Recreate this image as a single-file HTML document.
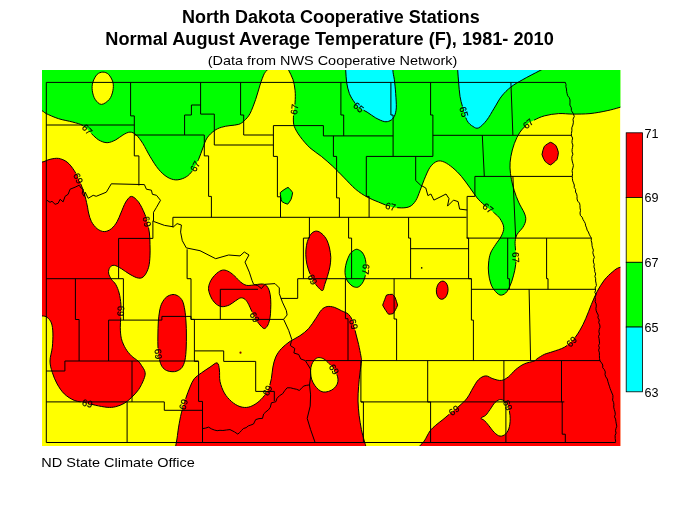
<!DOCTYPE html>
<html lang="en"><head><meta charset="utf-8"><title>North Dakota Cooperative Stations</title>
<style>html,body{margin:0;padding:0;background:#fff}svg{display:block}</style></head>
<body>
<svg width="700" height="518" viewBox="0 0 700 518">
<defs><clipPath id="m"><rect x="42" y="70" width="578.4" height="376"/></clipPath></defs>
<rect width="700" height="518" fill="#fff"/>
<g clip-path="url(#m)">
<rect x="42" y="70" width="578.4" height="376" fill="#ffff00"/>
<path fill="#00ff00" d="M20.0 105.0C22.3 105.6 30.3 107.5 34.0 108.5C37.7 109.5 40.0 109.9 42.0 110.7C44.0 111.6 43.5 112.2 46.3 113.6C49.0 114.9 54.1 117.3 58.6 118.7C63.0 120.1 68.8 121.0 72.9 122.1C76.9 123.3 79.8 123.7 82.9 125.6C86.0 127.5 88.8 131.2 91.4 133.6C94.0 136.0 96.0 138.3 98.6 139.9C101.2 141.4 104.3 142.7 107.1 142.7C110.0 142.7 113.1 141.1 115.7 139.9C118.3 138.6 120.5 136.3 122.9 135.0C125.2 133.7 127.8 132.1 130.0 132.1C132.2 132.1 134.1 133.1 136.3 135.0C138.4 136.9 140.6 140.0 142.9 143.6C145.1 147.1 147.4 152.1 150.0 156.4C152.6 160.7 155.7 165.9 158.6 169.3C161.4 172.7 164.3 175.2 167.1 177.0C170.0 178.8 172.9 179.7 175.7 179.9C178.6 180.0 181.7 179.1 184.3 177.9C186.9 176.6 189.0 175.2 191.4 172.1C193.8 169.0 196.7 163.3 198.6 159.3C200.5 155.2 201.4 151.4 202.9 147.9C204.3 144.3 205.2 140.7 207.1 137.9C209.0 135.0 211.9 132.5 214.3 130.7C216.7 129.0 218.8 128.1 221.4 127.3C224.0 126.4 227.1 126.0 230.0 125.6C232.9 125.1 236.2 125.2 238.6 124.4C241.0 123.6 242.4 122.5 244.3 120.7C246.2 118.9 248.1 117.1 250.0 113.6C251.9 110.0 254.0 104.0 255.7 99.3C257.4 94.5 258.6 89.3 260.0 85.0C261.4 80.7 263.1 76.0 264.3 73.6C265.5 71.1 266.0 72.0 267.1 70.1C268.3 68.2 269.6 64.2 271.4 62.1C273.2 60.1 275.8 57.9 278.0 57.9C280.2 57.9 283.1 60.1 284.9 62.1C286.6 64.2 287.2 67.3 288.6 70.1C289.9 73.0 291.8 75.9 292.9 79.3C294.0 82.7 294.8 86.9 295.1 90.7C295.5 94.5 295.3 99.0 295.1 102.1C295.0 105.2 294.6 106.7 294.3 109.3C294.0 111.9 293.4 115.0 293.4 117.9C293.4 120.7 293.2 123.3 294.3 126.4C295.4 129.5 297.4 132.9 300.0 136.4C302.6 140.0 306.4 144.5 310.0 147.9C313.6 151.2 317.6 153.3 321.4 156.4C325.2 159.5 329.0 162.9 332.9 166.4C336.7 170.0 340.5 174.0 344.3 177.9C348.1 181.7 351.9 186.1 355.7 189.3C359.5 192.5 363.3 194.9 367.1 197.0C371.0 199.1 374.8 200.6 378.6 202.1C382.4 203.7 386.2 205.5 390.0 206.4C393.8 207.4 398.1 207.9 401.4 207.9C404.8 207.9 407.6 207.6 410.0 206.4C412.4 205.2 414.0 203.3 415.7 200.7C417.4 198.1 418.6 194.3 420.0 190.7C421.4 187.1 422.6 183.2 424.3 179.3C426.0 175.4 427.9 170.3 430.0 167.3C432.1 164.3 434.8 162.1 437.1 161.3C439.5 160.4 441.7 161.0 444.3 162.1C446.9 163.2 450.0 165.5 452.9 167.9C455.7 170.2 458.6 173.1 461.4 176.4C464.3 179.8 467.4 184.3 470.0 187.9C472.6 191.4 474.8 195.0 477.1 197.9C479.5 200.7 481.4 202.5 484.3 205.0C487.1 207.5 491.7 210.7 494.3 213.0C496.9 215.3 498.4 216.3 500.0 218.7C501.6 221.1 503.5 224.4 503.7 227.3C504.0 230.1 502.8 233.0 501.4 235.9C500.1 238.7 497.5 241.6 495.7 244.4C493.9 247.3 491.8 249.9 490.6 253.0C489.4 256.1 488.9 259.7 488.6 263.0C488.2 266.3 488.2 269.7 488.6 273.0C488.9 276.3 489.6 280.1 490.6 283.0C491.5 285.9 492.7 288.1 494.3 290.1C495.9 292.1 498.1 294.5 500.0 295.0C501.9 295.5 504.0 294.5 505.7 293.0C507.4 291.5 508.7 288.7 510.0 285.9C511.3 283.0 512.5 279.4 513.4 275.9C514.4 272.3 515.3 268.2 515.7 264.4C516.1 260.6 515.8 256.8 515.7 253.0C515.6 249.2 514.9 244.7 515.1 241.6C515.4 238.5 515.9 236.8 517.1 234.4C518.4 232.0 521.4 229.7 522.9 227.3C524.3 224.9 525.5 222.5 525.7 220.1C526.0 217.8 525.5 216.0 524.3 213.0C523.1 210.0 520.2 205.9 518.6 202.1C516.9 198.4 515.5 194.5 514.3 190.7C513.1 186.9 512.1 183.1 511.4 179.3C510.7 175.5 510.1 171.7 510.0 167.9C509.9 164.0 510.1 160.5 510.9 156.4C511.6 152.4 512.8 147.6 514.3 143.6C515.8 139.5 517.7 135.5 520.0 132.1C522.3 128.8 525.9 125.5 528.0 123.6C530.1 121.7 530.1 122.0 532.9 120.7C535.6 119.4 540.0 117.0 544.3 115.9C548.6 114.7 553.8 113.9 558.6 113.6C563.3 113.3 567.6 114.1 572.9 114.1C578.1 114.1 584.3 114.1 590.0 113.6C595.7 113.0 602.1 111.8 607.1 110.7C612.1 109.7 615.4 108.6 620.0 107.3C624.6 106.0 630.0 104.2 635.0 103.0C640.0 101.8 647.5 100.5 650.0 100.0L650 40L20 40Z"/>
<path fill="#ffff00" d="M102.9 72.1C104.8 72.1 106.9 72.8 108.6 74.4C110.2 76.1 112.1 79.4 112.9 82.1C113.6 84.9 113.4 87.9 112.9 90.7C112.3 93.6 111.3 97.0 109.4 99.3C107.5 101.6 103.8 104.4 101.4 104.4C99.0 104.4 96.7 101.6 95.1 99.3C93.6 97.0 92.7 93.6 92.3 90.7C91.9 87.9 92.0 84.9 92.9 82.1C93.7 79.4 95.5 76.1 97.1 74.4C98.8 72.8 101.0 72.1 102.9 72.1Z"/>
<path fill="#00ff00" d="M288.0 187.4C289.7 188.5 291.4 190.8 292.6 192.6C292.5 194.7 291.7 197.1 291.1 199.2C290.1 201.0 288.9 203.0 287.6 204.2C285.8 203.7 283.5 202.8 281.8 201.5C281.0 198.9 280.3 195.4 280.3 192.6C282.3 190.7 285.6 188.5 288.0 187.4Z"/>
<path fill="#00ffff" d="M344.3 56.4C336.3 58.7 345.3 65.9 345.7 70.1C346.1 74.4 346.0 78.2 346.6 82.1C347.2 86.0 348.1 90.2 349.4 93.6C350.7 96.9 352.8 99.9 354.3 102.1C355.8 104.4 356.4 105.6 358.6 107.3C360.7 109.0 364.3 110.4 367.1 112.1C370.0 113.9 372.9 116.3 375.7 117.9C378.6 119.4 381.9 121.1 384.3 121.6C386.7 122.0 388.3 121.6 390.0 120.7C391.7 119.9 393.2 118.6 394.3 116.4C395.3 114.3 396.0 111.7 396.3 107.9C396.5 104.0 396.0 98.3 395.7 93.6C395.4 88.8 394.8 83.2 394.3 79.3C393.8 75.4 393.0 74.0 392.9 70.1C392.7 66.3 401.5 58.7 393.4 56.4C385.3 54.1 352.2 54.1 344.3 56.4Z"/>
<path fill="#00ffff" d="M457.1 56.4C440.8 59.8 457.5 65.9 457.7 70.1C458.0 74.4 458.2 77.8 458.6 82.1C459.0 86.5 459.3 92.1 460.0 96.4C460.7 100.7 461.7 103.8 462.9 107.9C464.0 111.9 465.5 117.6 467.1 120.7C468.8 123.8 471.0 125.2 472.9 126.4C474.8 127.6 476.3 128.9 478.6 127.9C480.9 126.8 484.1 123.5 486.7 120.2C489.3 116.9 491.7 112.2 494.2 108.2C496.7 104.2 498.9 99.6 501.7 96.1C504.5 92.6 507.3 89.8 510.8 87.1C514.3 84.3 517.9 82.4 522.8 79.6C527.7 76.8 534.5 73.4 540.0 70.5C545.5 67.6 553.3 65.4 556.0 62.0C558.7 58.6 572.5 50.9 556.0 50.0C539.5 49.1 473.5 53.1 457.1 56.4Z"/>
<path fill="#ff0000" d="M20.0 160.0C22.3 134.5 30.3 161.6 34.0 162.0C37.7 162.4 39.3 162.6 42.0 162.1C44.7 161.7 47.2 159.9 50.0 159.3C52.8 158.7 55.7 158.0 58.6 158.4C61.4 158.9 64.5 160.1 67.1 162.1C69.8 164.2 72.1 167.4 74.3 170.7C76.4 174.0 78.3 178.3 80.0 182.1C81.7 186.0 83.1 189.8 84.3 193.6C85.5 197.4 86.4 201.8 87.1 205.0C87.9 208.2 87.9 210.2 88.6 213.0C89.3 215.8 90.0 219.0 91.4 221.6C92.9 224.2 95.0 227.0 97.1 228.7C99.3 230.4 101.9 231.6 104.3 231.6C106.7 231.6 109.3 230.4 111.4 228.7C113.6 227.0 115.6 224.2 117.1 221.6C118.7 219.0 119.4 216.2 120.9 213.0C122.3 209.8 124.0 204.9 125.7 202.1C127.5 199.4 129.3 196.4 131.4 196.4C133.6 196.4 136.4 199.4 138.6 202.1C140.7 204.9 142.9 209.8 144.3 213.0C145.7 216.2 146.3 218.2 147.1 221.6C148.0 224.9 149.0 229.2 149.4 233.0C149.9 236.8 149.9 240.6 150.0 244.4C150.1 248.2 150.2 252.0 150.0 255.9C149.8 259.7 149.5 264.0 148.6 267.3C147.6 270.6 146.0 274.0 144.3 275.9C142.6 277.7 141.0 278.4 138.6 278.1C136.2 277.9 132.9 276.0 130.0 274.4C127.1 272.9 124.0 270.2 121.4 268.7C118.8 267.2 116.2 265.5 114.3 265.3C112.4 265.0 111.0 266.0 110.0 267.3C109.0 268.6 108.3 271.0 108.6 273.0C108.8 275.0 110.2 277.4 111.4 279.3C112.6 281.2 114.4 282.1 115.7 284.4C117.0 286.7 118.3 289.7 119.1 293.0C120.0 296.3 120.6 300.6 120.9 304.4C121.1 308.2 121.0 312.0 120.9 315.9C120.8 319.7 120.2 323.5 120.3 327.3C120.4 331.1 120.5 335.1 121.4 338.7C122.3 342.3 124.0 345.9 125.7 348.7C127.4 351.6 129.4 353.8 131.4 355.9C133.5 357.9 136.3 359.4 138.0 361.0C139.7 362.6 140.2 363.4 141.4 365.3C142.6 367.2 144.8 370.0 145.1 372.4C145.5 374.8 144.8 376.7 143.7 379.6C142.6 382.4 140.6 386.6 138.6 389.6C136.5 392.6 133.8 395.3 131.4 397.6C129.0 399.9 126.9 401.8 124.3 403.3C121.7 404.8 118.6 406.0 115.7 406.7C112.9 407.4 110.5 407.5 107.1 407.3C103.8 407.0 99.5 406.1 95.7 405.3C91.9 404.5 87.9 403.2 84.3 402.4C80.7 401.6 77.6 401.9 74.3 400.4C71.0 399.0 67.1 396.6 64.3 393.9C61.4 391.1 59.1 387.4 57.1 383.9C55.1 380.3 53.5 376.2 52.3 372.4C51.1 368.6 50.0 365.2 50.0 361.0C50.0 356.8 51.8 352.0 52.3 347.3C52.8 342.6 53.0 337.0 52.9 333.0C52.7 329.0 52.4 325.6 51.4 323.0C50.5 320.4 48.7 318.5 47.1 317.3C45.6 316.1 44.2 316.2 42.0 315.9C39.8 315.5 37.7 315.1 34.0 315.0C30.3 314.9 22.3 340.8 20.0 315.0C17.7 289.2 17.7 185.5 20.0 160.0Z"/>
<path fill="#ff0000" d="M173.0 294.5C175.0 294.4 176.9 295.2 178.5 296.3C180.1 297.4 181.4 298.7 182.5 301.0C183.6 303.3 184.2 306.5 184.8 310.0C185.4 313.5 185.7 317.8 186.0 322.0C186.3 326.2 186.4 330.7 186.4 335.0C186.4 339.3 186.4 343.8 186.2 348.0C186.0 352.2 185.7 356.8 185.0 360.0C184.3 363.2 183.3 365.7 182.0 367.5C180.7 369.3 178.7 370.3 177.0 371.0C175.3 371.7 173.8 371.8 172.0 371.7C170.2 371.6 168.2 371.4 166.5 370.5C164.8 369.6 163.2 368.4 162.0 366.5C160.8 364.6 160.0 362.1 159.3 359.0C158.6 355.9 158.2 352.0 158.0 348.0C157.8 344.0 157.8 339.3 157.9 335.0C158.0 330.7 158.0 326.0 158.3 322.0C158.6 318.0 159.0 314.2 159.6 311.0C160.2 307.8 160.8 305.3 162.0 303.0C163.2 300.7 164.7 298.4 166.5 297.0C168.3 295.6 171.0 294.6 173.0 294.5Z"/>
<path fill="#ff0000" d="M223.6 270.0C225.4 270.0 227.4 270.8 229.3 271.9C231.2 272.9 233.1 274.7 235.0 276.4C236.9 278.1 238.8 280.7 240.7 282.1C242.6 283.6 244.3 284.8 246.4 285.3C248.6 285.8 251.2 285.2 253.6 285.0C256.0 284.8 258.7 284.0 260.7 284.0C262.7 284.0 264.3 283.9 265.7 285.0C267.1 286.1 268.5 288.3 269.3 290.7C270.1 293.1 270.5 296.2 270.7 299.3C271.0 302.4 270.8 306.2 270.7 309.3C270.6 312.4 270.5 315.2 270.0 317.9C269.5 320.5 268.8 323.2 267.9 325.0C266.9 326.8 265.6 328.6 264.3 328.6C263.0 328.6 261.3 326.4 260.0 325.0C258.7 323.6 257.7 322.1 256.4 320.0C255.1 317.9 253.5 314.8 252.1 312.1C250.8 309.5 249.8 306.4 248.6 304.3C247.4 302.1 246.3 300.4 245.0 299.3C243.7 298.2 242.3 297.6 240.7 297.9C239.2 298.1 237.6 299.5 235.7 300.7C233.8 301.9 231.5 304.0 229.3 305.0C227.0 306.0 224.3 306.8 222.1 306.7C220.0 306.6 218.1 305.5 216.4 304.3C214.8 303.0 213.3 301.2 212.1 299.3C211.0 297.4 209.9 294.9 209.3 292.9C208.7 290.8 208.3 289.2 208.6 287.1C208.8 285.1 209.8 282.6 210.7 280.7C211.7 278.8 213.0 277.2 214.3 275.7C215.6 274.2 217.0 272.8 218.6 271.9C220.1 270.9 221.8 270.0 223.6 270.0Z"/>
<path fill="#ff0000" d="M316.6 231.1C318.3 231.2 320.3 232.3 322.0 233.8C323.7 235.2 325.5 237.5 326.8 239.9C328.0 242.2 328.8 245.0 329.5 248.0C330.1 250.9 330.7 254.3 330.8 257.4C330.9 260.6 330.4 263.7 329.9 266.9C329.3 270.0 328.3 273.4 327.4 276.4C326.6 279.3 325.5 282.1 324.7 284.5C323.9 286.8 323.7 290.0 322.7 290.5C321.7 291.1 320.1 289.3 318.6 287.8C317.2 286.4 315.4 284.1 313.9 281.8C312.5 279.4 311.0 276.6 309.9 273.6C308.7 270.7 307.6 267.3 306.9 264.2C306.2 261.0 305.9 257.9 305.8 254.7C305.7 251.6 306.0 248.0 306.5 245.3C306.9 242.6 307.6 240.5 308.5 238.5C309.4 236.5 310.5 234.3 311.9 233.1C313.2 231.9 314.9 231.0 316.6 231.1Z"/>
<path fill="#00ff00" d="M357.2 249.3C358.5 249.6 360.7 250.8 361.9 252.0C363.1 253.3 363.9 255.0 364.6 256.8C365.3 258.6 365.7 260.5 365.9 262.8C366.2 265.2 366.2 268.4 365.9 270.9C365.7 273.5 365.3 276.2 364.6 278.4C363.9 280.5 363.0 282.3 361.9 283.8C360.8 285.2 359.3 286.7 357.8 287.2C356.4 287.6 354.6 287.2 353.1 286.5C351.6 285.8 350.2 284.5 349.1 283.1C347.9 281.8 346.8 280.2 346.1 278.4C345.4 276.6 345.1 274.4 345.0 272.3C344.9 270.2 345.2 267.8 345.7 265.5C346.1 263.3 346.9 260.8 347.7 258.8C348.5 256.8 349.4 254.8 350.4 253.4C351.4 252.0 352.7 251.1 353.8 250.4C354.9 249.7 355.8 249.1 357.2 249.3Z"/>
<path fill="#ff0000" d="M386.6 295.0C388.3 294.5 390.6 294.3 392.4 294.3C393.5 295.1 394.2 296.1 395.1 297.4C395.9 299.7 397.0 302.7 397.6 305.1C397.2 306.8 396.2 308.2 395.5 309.7C394.7 311.0 394.1 312.5 393.2 313.6C391.8 314.0 389.9 314.3 388.5 314.2C387.5 313.2 386.7 311.8 385.8 310.5C384.8 308.8 383.4 307.0 382.7 305.2C383.1 303.4 384.0 301.5 384.7 299.7C385.3 298.1 385.7 296.3 386.6 295.0Z"/>
<path fill="#ff0000" d="M448.0 290.7C447.8 292.2 447.4 293.9 446.8 295.2C446.2 296.4 445.3 297.6 444.4 298.3C443.5 299.0 442.4 299.3 441.4 299.3C440.4 299.2 439.4 298.6 438.6 297.8C437.9 297.0 437.2 295.6 436.8 294.3C436.4 292.9 436.3 291.2 436.4 289.7C436.6 288.2 437.0 286.5 437.6 285.2C438.2 284.0 439.1 282.8 440.0 282.1C440.9 281.4 442.0 281.1 443.0 281.1C444.0 281.2 445.0 281.8 445.8 282.6C446.5 283.4 447.2 284.8 447.6 286.1C448.0 287.5 448.1 289.2 448.0 290.7Z"/>
<path fill="#ff0000" d="M550.5 142.3C552.4 142.8 554.3 144.2 555.9 145.6C557.0 147.6 557.9 150.2 558.4 152.5C558.2 154.8 557.8 157.3 557.0 159.5C555.2 161.4 552.6 163.8 550.5 164.9C548.6 164.4 546.7 162.8 545.1 161.4C543.9 159.4 542.6 156.9 542.0 154.5C542.4 151.9 543.2 148.8 544.3 146.4C546.1 144.7 548.5 143.1 550.5 142.3Z"/>
<path fill="#ff0000" d="M174.0 475.0C142.0 473.5 174.7 459.8 175.0 455.0C175.3 450.2 175.3 448.8 175.7 446.0C176.1 443.2 176.7 441.1 177.1 438.0C177.6 434.9 177.9 431.3 178.6 427.1C179.3 423.0 180.2 417.6 181.4 412.9C182.6 408.1 184.3 402.9 185.7 398.6C187.1 394.3 188.6 390.5 190.0 387.1C191.4 383.8 192.4 381.0 194.3 378.6C196.2 376.2 198.8 374.8 201.4 372.9C204.0 371.0 207.4 368.8 210.0 367.1C212.6 365.5 215.6 362.4 217.1 362.9C218.7 363.3 219.0 366.9 219.4 370.0C219.9 373.1 219.2 377.6 220.0 381.4C220.8 385.2 222.4 389.5 224.3 392.9C226.2 396.2 228.8 399.1 231.4 401.4C234.0 403.7 237.1 405.6 240.0 406.6C242.9 407.5 245.7 407.8 248.6 407.1C251.4 406.5 254.5 404.8 257.1 402.9C259.8 401.0 262.4 398.1 264.3 395.7C266.2 393.3 267.4 391.4 268.6 388.6C269.8 385.7 270.7 382.1 271.4 378.6C272.1 375.0 272.1 370.7 272.9 367.1C273.6 363.6 274.3 360.2 275.7 357.1C277.1 354.0 279.0 351.2 281.4 348.6C283.8 346.0 286.9 343.6 290.0 341.4C293.1 339.3 296.9 337.9 300.0 335.7C303.1 333.6 306.0 331.4 308.6 328.6C311.2 325.7 313.6 321.7 315.7 318.6C317.9 315.5 319.5 312.0 321.4 310.0C323.3 308.0 325.0 307.0 327.1 306.6C329.3 306.1 331.9 306.6 334.3 307.3C336.7 308.0 339.0 309.5 341.4 310.7C343.8 311.9 346.7 312.6 348.6 314.4C350.5 316.2 351.7 318.5 352.9 321.6C354.0 324.7 354.8 329.2 355.7 333.0C356.7 336.8 357.7 340.6 358.6 344.4C359.4 348.2 360.4 353.1 360.9 355.9C361.3 358.6 361.6 358.2 361.4 361.0C361.3 363.8 360.5 368.1 360.0 372.4C359.5 376.7 358.9 382.0 358.6 386.7C358.2 391.5 357.9 396.2 358.0 401.0C358.1 405.8 358.6 410.5 359.1 415.3C359.7 420.0 360.6 425.3 361.4 429.6C362.3 433.9 363.6 438.3 364.3 441.0C365.0 443.7 365.3 444.0 365.7 445.9C366.1 447.8 366.3 449.4 366.6 452.4C366.8 455.4 399.2 460.1 367.1 463.9C335.0 467.6 206.0 476.5 174.0 475.0Z"/>
<path fill="#ffff00" d="M319.1 357.6C320.5 357.6 322.4 358.1 324.1 359.1C325.8 360.1 327.5 362.0 329.1 363.6C330.7 365.2 332.4 366.8 333.7 368.6C334.9 370.4 335.9 372.4 336.7 374.1C337.4 375.9 337.9 377.5 338.0 379.1C338.1 380.8 337.9 382.6 337.2 384.2C336.4 385.7 335.1 387.5 333.7 388.7C332.2 389.9 330.4 390.8 328.6 391.4C326.9 391.9 324.8 392.3 323.1 392.0C321.4 391.7 320.0 390.8 318.6 389.7C317.2 388.5 315.7 386.9 314.6 385.2C313.4 383.4 312.2 381.1 311.6 379.1C310.9 377.1 310.7 375.0 310.6 373.1C310.4 371.2 310.5 369.3 310.9 367.6C311.2 365.8 311.8 364.0 312.6 362.6C313.4 361.1 314.5 359.7 315.6 358.9C316.7 358.0 317.7 357.5 319.1 357.6Z"/>
<path fill="#ff0000" d="M650.0 262.0C647.5 227.7 640.0 263.1 635.0 264.0C630.0 264.9 623.7 266.0 620.0 267.3C616.3 268.5 615.5 269.4 612.9 271.6C610.2 273.7 606.9 276.8 604.3 280.1C601.7 283.5 599.3 287.5 597.1 291.6C595.0 295.6 593.3 299.9 591.4 304.4C589.5 309.0 587.6 314.4 585.7 318.7C583.8 323.0 582.1 326.6 580.0 330.1C577.9 333.7 575.5 337.3 572.9 340.1C570.2 343.0 567.6 345.4 564.3 347.3C561.0 349.2 556.2 350.4 552.9 351.6C549.5 352.8 546.9 353.2 544.3 354.4C541.7 355.6 538.8 357.6 537.1 358.7C535.5 359.8 536.4 360.1 534.3 361.0C532.1 361.9 527.4 362.4 524.3 363.9C521.2 365.3 518.3 367.4 515.7 369.6C513.1 371.7 511.0 374.9 508.6 376.7C506.2 378.5 504.0 380.1 501.4 380.4C498.8 380.8 495.5 379.5 492.9 378.7C490.2 378.0 488.1 375.7 485.7 375.9C483.3 376.0 480.7 377.5 478.6 379.6C476.4 381.6 474.8 385.0 472.9 388.1C471.0 391.2 469.3 395.3 467.1 398.1C465.0 401.0 462.6 402.9 460.0 405.3C457.4 407.7 454.3 410.0 451.4 412.4C448.6 414.8 445.5 417.4 442.9 419.6C440.2 421.7 437.9 423.4 435.7 425.3C433.6 427.2 431.9 428.4 430.0 431.0C428.1 433.6 426.0 438.5 424.3 441.0C422.6 443.5 421.4 443.5 420.0 445.9C418.6 448.2 377.4 451.3 415.7 455.3C454.0 459.3 611.0 502.2 650.0 470.0C689.0 437.8 652.5 296.3 650.0 262.0Z"/>
<path fill="#ffff00" d="M500.9 399.6C502.9 399.8 505.6 401.2 507.1 403.9C508.7 406.5 509.6 411.5 510.0 415.3C510.4 419.1 510.1 423.6 509.4 426.7C508.7 429.8 507.3 432.3 505.7 433.9C504.1 435.4 501.9 436.4 500.0 436.1C498.1 435.9 496.2 434.2 494.3 432.4C492.4 430.6 490.2 427.3 488.6 425.3C486.9 423.3 485.6 421.6 484.3 420.4C483.0 419.2 480.6 419.0 480.9 418.1C481.1 417.3 484.2 416.7 485.7 415.3C487.2 413.9 488.4 411.7 490.0 409.6C491.6 407.4 493.3 404.1 495.1 402.4C497.0 400.8 498.9 399.3 500.9 399.6Z"/>
<g fill="none" stroke="#000" stroke-width="1" stroke-linejoin="round">
<path d="M20.0 105.0C22.3 105.6 30.3 107.5 34.0 108.5C37.7 109.5 40.0 109.9 42.0 110.7C44.0 111.6 43.5 112.2 46.3 113.6C49.0 114.9 54.1 117.3 58.6 118.7C63.0 120.1 68.8 121.0 72.9 122.1C76.9 123.3 79.8 123.7 82.9 125.6C86.0 127.5 88.8 131.2 91.4 133.6C94.0 136.0 96.0 138.3 98.6 139.9C101.2 141.4 104.3 142.7 107.1 142.7C110.0 142.7 113.1 141.1 115.7 139.9C118.3 138.6 120.5 136.3 122.9 135.0C125.2 133.7 127.8 132.1 130.0 132.1C132.2 132.1 134.1 133.1 136.3 135.0C138.4 136.9 140.6 140.0 142.9 143.6C145.1 147.1 147.4 152.1 150.0 156.4C152.6 160.7 155.7 165.9 158.6 169.3C161.4 172.7 164.3 175.2 167.1 177.0C170.0 178.8 172.9 179.7 175.7 179.9C178.6 180.0 181.7 179.1 184.3 177.9C186.9 176.6 189.0 175.2 191.4 172.1C193.8 169.0 196.7 163.3 198.6 159.3C200.5 155.2 201.4 151.4 202.9 147.9C204.3 144.3 205.2 140.7 207.1 137.9C209.0 135.0 211.9 132.5 214.3 130.7C216.7 129.0 218.8 128.1 221.4 127.3C224.0 126.4 227.1 126.0 230.0 125.6C232.9 125.1 236.2 125.2 238.6 124.4C241.0 123.6 242.4 122.5 244.3 120.7C246.2 118.9 248.1 117.1 250.0 113.6C251.9 110.0 254.0 104.0 255.7 99.3C257.4 94.5 258.6 89.3 260.0 85.0C261.4 80.7 263.1 76.0 264.3 73.6C265.5 71.1 266.0 72.0 267.1 70.1C268.3 68.2 269.6 64.2 271.4 62.1C273.2 60.1 275.8 57.9 278.0 57.9C280.2 57.9 283.1 60.1 284.9 62.1C286.6 64.2 287.2 67.3 288.6 70.1C289.9 73.0 291.8 75.9 292.9 79.3C294.0 82.7 294.8 86.9 295.1 90.7C295.5 94.5 295.3 99.0 295.1 102.1C295.0 105.2 294.6 106.7 294.3 109.3C294.0 111.9 293.4 115.0 293.4 117.9C293.4 120.7 293.2 123.3 294.3 126.4C295.4 129.5 297.4 132.9 300.0 136.4C302.6 140.0 306.4 144.5 310.0 147.9C313.6 151.2 317.6 153.3 321.4 156.4C325.2 159.5 329.0 162.9 332.9 166.4C336.7 170.0 340.5 174.0 344.3 177.9C348.1 181.7 351.9 186.1 355.7 189.3C359.5 192.5 363.3 194.9 367.1 197.0C371.0 199.1 374.8 200.6 378.6 202.1C382.4 203.7 386.2 205.5 390.0 206.4C393.8 207.4 398.1 207.9 401.4 207.9C404.8 207.9 407.6 207.6 410.0 206.4C412.4 205.2 414.0 203.3 415.7 200.7C417.4 198.1 418.6 194.3 420.0 190.7C421.4 187.1 422.6 183.2 424.3 179.3C426.0 175.4 427.9 170.3 430.0 167.3C432.1 164.3 434.8 162.1 437.1 161.3C439.5 160.4 441.7 161.0 444.3 162.1C446.9 163.2 450.0 165.5 452.9 167.9C455.7 170.2 458.6 173.1 461.4 176.4C464.3 179.8 467.4 184.3 470.0 187.9C472.6 191.4 474.8 195.0 477.1 197.9C479.5 200.7 481.4 202.5 484.3 205.0C487.1 207.5 491.7 210.7 494.3 213.0C496.9 215.3 498.4 216.3 500.0 218.7C501.6 221.1 503.5 224.4 503.7 227.3C504.0 230.1 502.8 233.0 501.4 235.9C500.1 238.7 497.5 241.6 495.7 244.4C493.9 247.3 491.8 249.9 490.6 253.0C489.4 256.1 488.9 259.7 488.6 263.0C488.2 266.3 488.2 269.7 488.6 273.0C488.9 276.3 489.6 280.1 490.6 283.0C491.5 285.9 492.7 288.1 494.3 290.1C495.9 292.1 498.1 294.5 500.0 295.0C501.9 295.5 504.0 294.5 505.7 293.0C507.4 291.5 508.7 288.7 510.0 285.9C511.3 283.0 512.5 279.4 513.4 275.9C514.4 272.3 515.3 268.2 515.7 264.4C516.1 260.6 515.8 256.8 515.7 253.0C515.6 249.2 514.9 244.7 515.1 241.6C515.4 238.5 515.9 236.8 517.1 234.4C518.4 232.0 521.4 229.7 522.9 227.3C524.3 224.9 525.5 222.5 525.7 220.1C526.0 217.8 525.5 216.0 524.3 213.0C523.1 210.0 520.2 205.9 518.6 202.1C516.9 198.4 515.5 194.5 514.3 190.7C513.1 186.9 512.1 183.1 511.4 179.3C510.7 175.5 510.1 171.7 510.0 167.9C509.9 164.0 510.1 160.5 510.9 156.4C511.6 152.4 512.8 147.6 514.3 143.6C515.8 139.5 517.7 135.5 520.0 132.1C522.3 128.8 525.9 125.5 528.0 123.6C530.1 121.7 530.1 122.0 532.9 120.7C535.6 119.4 540.0 117.0 544.3 115.9C548.6 114.7 553.8 113.9 558.6 113.6C563.3 113.3 567.6 114.1 572.9 114.1C578.1 114.1 584.3 114.1 590.0 113.6C595.7 113.0 602.1 111.8 607.1 110.7C612.1 109.7 615.4 108.6 620.0 107.3C624.6 106.0 630.0 104.2 635.0 103.0C640.0 101.8 647.5 100.5 650.0 100.0" stroke-dasharray="66.8 11.4 132.4 11.4 193.0 11.4 133.6 11.4 133.8 11.4 133.7 11.4 133.3 11.4 9999.0"/>
<path d="M102.9 72.1C104.8 72.1 106.9 72.8 108.6 74.4C110.2 76.1 112.1 79.4 112.9 82.1C113.6 84.9 113.4 87.9 112.9 90.7C112.3 93.6 111.3 97.0 109.4 99.3C107.5 101.6 103.8 104.4 101.4 104.4C99.0 104.4 96.7 101.6 95.1 99.3C93.6 97.0 92.7 93.6 92.3 90.7C91.9 87.9 92.0 84.9 92.9 82.1C93.7 79.4 95.5 76.1 97.1 74.4C98.8 72.8 101.0 72.1 102.9 72.1"/>
<path d="M288.0 187.4C289.7 188.5 291.4 190.8 292.6 192.6C292.5 194.7 291.7 197.1 291.1 199.2C290.1 201.0 288.9 203.0 287.6 204.2C285.8 203.7 283.5 202.8 281.8 201.5C281.0 198.9 280.3 195.4 280.3 192.6C282.3 190.7 285.6 188.5 288.0 187.4"/>
<path d="M344.3 56.4C336.3 58.7 345.3 65.9 345.7 70.1C346.1 74.4 346.0 78.2 346.6 82.1C347.2 86.0 348.1 90.2 349.4 93.6C350.7 96.9 352.8 99.9 354.3 102.1C355.8 104.4 356.4 105.6 358.6 107.3C360.7 109.0 364.3 110.4 367.1 112.1C370.0 113.9 372.9 116.3 375.7 117.9C378.6 119.4 381.9 121.1 384.3 121.6C386.7 122.0 388.3 121.6 390.0 120.7C391.7 119.9 393.2 118.6 394.3 116.4C395.3 114.3 396.0 111.7 396.3 107.9C396.5 104.0 396.0 98.3 395.7 93.6C395.4 88.8 394.8 83.2 394.3 79.3C393.8 75.4 393.0 74.0 392.9 70.1C392.7 66.3 401.5 58.7 393.4 56.4C385.3 54.1 352.2 54.1 344.3 56.4" stroke-dasharray="51.4 11.4 9999.0"/>
<path d="M457.1 56.4C440.8 59.8 457.5 65.9 457.7 70.1C458.0 74.4 458.2 77.8 458.6 82.1C459.0 86.5 459.3 92.1 460.0 96.4C460.7 100.7 461.7 103.8 462.9 107.9C464.0 111.9 465.5 117.6 467.1 120.7C468.8 123.8 471.0 125.2 472.9 126.4C474.8 127.6 476.3 128.9 478.6 127.9C480.9 126.8 484.1 123.5 486.7 120.2C489.3 116.9 491.7 112.2 494.2 108.2C496.7 104.2 498.9 99.6 501.7 96.1C504.5 92.6 507.3 89.8 510.8 87.1C514.3 84.3 517.9 82.4 522.8 79.6C527.7 76.8 534.5 73.4 540.0 70.5C545.5 67.6 553.3 65.4 556.0 62.0C558.7 58.6 572.5 50.9 556.0 50.0C539.5 49.1 473.5 53.1 457.1 56.4" stroke-dasharray="58.0 11.4 9999.0"/>
<path d="M20.0 160.0C22.3 134.5 30.3 161.6 34.0 162.0C37.7 162.4 39.3 162.6 42.0 162.1C44.7 161.7 47.2 159.9 50.0 159.3C52.8 158.7 55.7 158.0 58.6 158.4C61.4 158.9 64.5 160.1 67.1 162.1C69.8 164.2 72.1 167.4 74.3 170.7C76.4 174.0 78.3 178.3 80.0 182.1C81.7 186.0 83.1 189.8 84.3 193.6C85.5 197.4 86.4 201.8 87.1 205.0C87.9 208.2 87.9 210.2 88.6 213.0C89.3 215.8 90.0 219.0 91.4 221.6C92.9 224.2 95.0 227.0 97.1 228.7C99.3 230.4 101.9 231.6 104.3 231.6C106.7 231.6 109.3 230.4 111.4 228.7C113.6 227.0 115.6 224.2 117.1 221.6C118.7 219.0 119.4 216.2 120.9 213.0C122.3 209.8 124.0 204.9 125.7 202.1C127.5 199.4 129.3 196.4 131.4 196.4C133.6 196.4 136.4 199.4 138.6 202.1C140.7 204.9 142.9 209.8 144.3 213.0C145.7 216.2 146.3 218.2 147.1 221.6C148.0 224.9 149.0 229.2 149.4 233.0C149.9 236.8 149.9 240.6 150.0 244.4C150.1 248.2 150.2 252.0 150.0 255.9C149.8 259.7 149.5 264.0 148.6 267.3C147.6 270.6 146.0 274.0 144.3 275.9C142.6 277.7 141.0 278.4 138.6 278.1C136.2 277.9 132.9 276.0 130.0 274.4C127.1 272.9 124.0 270.2 121.4 268.7C118.8 267.2 116.2 265.5 114.3 265.3C112.4 265.0 111.0 266.0 110.0 267.3C109.0 268.6 108.3 271.0 108.6 273.0C108.8 275.0 110.2 277.4 111.4 279.3C112.6 281.2 114.4 282.1 115.7 284.4C117.0 286.7 118.3 289.7 119.1 293.0C120.0 296.3 120.6 300.6 120.9 304.4C121.1 308.2 121.0 312.0 120.9 315.9C120.8 319.7 120.2 323.5 120.3 327.3C120.4 331.1 120.5 335.1 121.4 338.7C122.3 342.3 124.0 345.9 125.7 348.7C127.4 351.6 129.4 353.8 131.4 355.9C133.5 357.9 136.3 359.4 138.0 361.0C139.7 362.6 140.2 363.4 141.4 365.3C142.6 367.2 144.8 370.0 145.1 372.4C145.5 374.8 144.8 376.7 143.7 379.6C142.6 382.4 140.6 386.6 138.6 389.6C136.5 392.6 133.8 395.3 131.4 397.6C129.0 399.9 126.9 401.8 124.3 403.3C121.7 404.8 118.6 406.0 115.7 406.7C112.9 407.4 110.5 407.5 107.1 407.3C103.8 407.0 99.5 406.1 95.7 405.3C91.9 404.5 87.9 403.2 84.3 402.4C80.7 401.6 77.6 401.9 74.3 400.4C71.0 399.0 67.1 396.6 64.3 393.9C61.4 391.1 59.1 387.4 57.1 383.9C55.1 380.3 53.5 376.2 52.3 372.4C51.1 368.6 50.0 365.2 50.0 361.0C50.0 356.8 51.8 352.0 52.3 347.3C52.8 342.6 53.0 337.0 52.9 333.0C52.7 329.0 52.4 325.6 51.4 323.0C50.5 320.4 48.7 318.5 47.1 317.3C45.6 316.1 44.2 316.2 42.0 315.9C39.8 315.5 37.7 315.1 34.0 315.0C30.3 314.9 22.3 340.8 20.0 315.0C17.7 289.2 17.7 185.5 20.0 160.0" stroke-dasharray="77.7 11.4 128.5 11.4 130.5 11.4 135.2 11.4 9999.0"/>
<path d="M173.0 294.5C175.0 294.4 176.9 295.2 178.5 296.3C180.1 297.4 181.4 298.7 182.5 301.0C183.6 303.3 184.2 306.5 184.8 310.0C185.4 313.5 185.7 317.8 186.0 322.0C186.3 326.2 186.4 330.7 186.4 335.0C186.4 339.3 186.4 343.8 186.2 348.0C186.0 352.2 185.7 356.8 185.0 360.0C184.3 363.2 183.3 365.7 182.0 367.5C180.7 369.3 178.7 370.3 177.0 371.0C175.3 371.7 173.8 371.8 172.0 371.7C170.2 371.6 168.2 371.4 166.5 370.5C164.8 369.6 163.2 368.4 162.0 366.5C160.8 364.6 160.0 362.1 159.3 359.0C158.6 355.9 158.2 352.0 158.0 348.0C157.8 344.0 157.8 339.3 157.9 335.0C158.0 330.7 158.0 326.0 158.3 322.0C158.6 318.0 159.0 314.2 159.6 311.0C160.2 307.8 160.8 305.3 162.0 303.0C163.2 300.7 164.7 298.4 166.5 297.0C168.3 295.6 171.0 294.6 173.0 294.5" stroke-dasharray="110.0 11.4 9999.0"/>
<path d="M223.6 270.0C225.4 270.0 227.4 270.8 229.3 271.9C231.2 272.9 233.1 274.7 235.0 276.4C236.9 278.1 238.8 280.7 240.7 282.1C242.6 283.6 244.3 284.8 246.4 285.3C248.6 285.8 251.2 285.2 253.6 285.0C256.0 284.8 258.7 284.0 260.7 284.0C262.7 284.0 264.3 283.9 265.7 285.0C267.1 286.1 268.5 288.3 269.3 290.7C270.1 293.1 270.5 296.2 270.7 299.3C271.0 302.4 270.8 306.2 270.7 309.3C270.6 312.4 270.5 315.2 270.0 317.9C269.5 320.5 268.8 323.2 267.9 325.0C266.9 326.8 265.6 328.6 264.3 328.6C263.0 328.6 261.3 326.4 260.0 325.0C258.7 323.6 257.7 322.1 256.4 320.0C255.1 317.9 253.5 314.8 252.1 312.1C250.8 309.5 249.8 306.4 248.6 304.3C247.4 302.1 246.3 300.4 245.0 299.3C243.7 298.2 242.3 297.6 240.7 297.9C239.2 298.1 237.6 299.5 235.7 300.7C233.8 301.9 231.5 304.0 229.3 305.0C227.0 306.0 224.3 306.8 222.1 306.7C220.0 306.6 218.1 305.5 216.4 304.3C214.8 303.0 213.3 301.2 212.1 299.3C211.0 297.4 209.9 294.9 209.3 292.9C208.7 290.8 208.3 289.2 208.6 287.1C208.8 285.1 209.8 282.6 210.7 280.7C211.7 278.8 213.0 277.2 214.3 275.7C215.6 274.2 217.0 272.8 218.6 271.9C220.1 270.9 221.8 270.0 223.6 270.0" stroke-dasharray="104.1 11.4 9999.0"/>
<path d="M316.6 231.1C318.3 231.2 320.3 232.3 322.0 233.8C323.7 235.2 325.5 237.5 326.8 239.9C328.0 242.2 328.8 245.0 329.5 248.0C330.1 250.9 330.7 254.3 330.8 257.4C330.9 260.6 330.4 263.7 329.9 266.9C329.3 270.0 328.3 273.4 327.4 276.4C326.6 279.3 325.5 282.1 324.7 284.5C323.9 286.8 323.7 290.0 322.7 290.5C321.7 291.1 320.1 289.3 318.6 287.8C317.2 286.4 315.4 284.1 313.9 281.8C312.5 279.4 311.0 276.6 309.9 273.6C308.7 270.7 307.6 267.3 306.9 264.2C306.2 261.0 305.9 257.9 305.8 254.7C305.7 251.6 306.0 248.0 306.5 245.3C306.9 242.6 307.6 240.5 308.5 238.5C309.4 236.5 310.5 234.3 311.9 233.1C313.2 231.9 314.9 231.0 316.6 231.1" stroke-dasharray="76.0 11.4 9999.0"/>
<path d="M357.2 249.3C358.5 249.6 360.7 250.8 361.9 252.0C363.1 253.3 363.9 255.0 364.6 256.8C365.3 258.6 365.7 260.5 365.9 262.8C366.2 265.2 366.2 268.4 365.9 270.9C365.7 273.5 365.3 276.2 364.6 278.4C363.9 280.5 363.0 282.3 361.9 283.8C360.8 285.2 359.3 286.7 357.8 287.2C356.4 287.6 354.6 287.2 353.1 286.5C351.6 285.8 350.2 284.5 349.1 283.1C347.9 281.8 346.8 280.2 346.1 278.4C345.4 276.6 345.1 274.4 345.0 272.3C344.9 270.2 345.2 267.8 345.7 265.5C346.1 263.3 346.9 260.8 347.7 258.8C348.5 256.8 349.4 254.8 350.4 253.4C351.4 252.0 352.7 251.1 353.8 250.4C354.9 249.7 355.8 249.1 357.2 249.3" stroke-dasharray="18.0 11.4 9999.0"/>
<path d="M386.6 295.0C388.3 294.5 390.6 294.3 392.4 294.3C393.5 295.1 394.2 296.1 395.1 297.4C395.9 299.7 397.0 302.7 397.6 305.1C397.2 306.8 396.2 308.2 395.5 309.7C394.7 311.0 394.1 312.5 393.2 313.6C391.8 314.0 389.9 314.3 388.5 314.2C387.5 313.2 386.7 311.8 385.8 310.5C384.8 308.8 383.4 307.0 382.7 305.2C383.1 303.4 384.0 301.5 384.7 299.7C385.3 298.1 385.7 296.3 386.6 295.0"/>
<path d="M448.0 290.7C447.8 292.2 447.4 293.9 446.8 295.2C446.2 296.4 445.3 297.6 444.4 298.3C443.5 299.0 442.4 299.3 441.4 299.3C440.4 299.2 439.4 298.6 438.6 297.8C437.9 297.0 437.2 295.6 436.8 294.3C436.4 292.9 436.3 291.2 436.4 289.7C436.6 288.2 437.0 286.5 437.6 285.2C438.2 284.0 439.1 282.8 440.0 282.1C440.9 281.4 442.0 281.1 443.0 281.1C444.0 281.2 445.0 281.8 445.8 282.6C446.5 283.4 447.2 284.8 447.6 286.1C448.0 287.5 448.1 289.2 448.0 290.7"/>
<path d="M550.5 142.3C552.4 142.8 554.3 144.2 555.9 145.6C557.0 147.6 557.9 150.2 558.4 152.5C558.2 154.8 557.8 157.3 557.0 159.5C555.2 161.4 552.6 163.8 550.5 164.9C548.6 164.4 546.7 162.8 545.1 161.4C543.9 159.4 542.6 156.9 542.0 154.5C542.4 151.9 543.2 148.8 544.3 146.4C546.1 144.7 548.5 143.1 550.5 142.3"/>
<path d="M174.0 475.0C142.0 473.5 174.7 459.8 175.0 455.0C175.3 450.2 175.3 448.8 175.7 446.0C176.1 443.2 176.7 441.1 177.1 438.0C177.6 434.9 177.9 431.3 178.6 427.1C179.3 423.0 180.2 417.6 181.4 412.9C182.6 408.1 184.3 402.9 185.7 398.6C187.1 394.3 188.6 390.5 190.0 387.1C191.4 383.8 192.4 381.0 194.3 378.6C196.2 376.2 198.8 374.8 201.4 372.9C204.0 371.0 207.4 368.8 210.0 367.1C212.6 365.5 215.6 362.4 217.1 362.9C218.7 363.3 219.0 366.9 219.4 370.0C219.9 373.1 219.2 377.6 220.0 381.4C220.8 385.2 222.4 389.5 224.3 392.9C226.2 396.2 228.8 399.1 231.4 401.4C234.0 403.7 237.1 405.6 240.0 406.6C242.9 407.5 245.7 407.8 248.6 407.1C251.4 406.5 254.5 404.8 257.1 402.9C259.8 401.0 262.4 398.1 264.3 395.7C266.2 393.3 267.4 391.4 268.6 388.6C269.8 385.7 270.7 382.1 271.4 378.6C272.1 375.0 272.1 370.7 272.9 367.1C273.6 363.6 274.3 360.2 275.7 357.1C277.1 354.0 279.0 351.2 281.4 348.6C283.8 346.0 286.9 343.6 290.0 341.4C293.1 339.3 296.9 337.9 300.0 335.7C303.1 333.6 306.0 331.4 308.6 328.6C311.2 325.7 313.6 321.7 315.7 318.6C317.9 315.5 319.5 312.0 321.4 310.0C323.3 308.0 325.0 307.0 327.1 306.6C329.3 306.1 331.9 306.6 334.3 307.3C336.7 308.0 339.0 309.5 341.4 310.7C343.8 311.9 346.7 312.6 348.6 314.4C350.5 316.2 351.7 318.5 352.9 321.6C354.0 324.7 354.8 329.2 355.7 333.0C356.7 336.8 357.7 340.6 358.6 344.4C359.4 348.2 360.4 353.1 360.9 355.9C361.3 358.6 361.6 358.2 361.4 361.0C361.3 363.8 360.5 368.1 360.0 372.4C359.5 376.7 358.9 382.0 358.6 386.7C358.2 391.5 357.9 396.2 358.0 401.0C358.1 405.8 358.6 410.5 359.1 415.3C359.7 420.0 360.6 425.3 361.4 429.6C362.3 433.9 363.6 438.3 364.3 441.0C365.0 443.7 365.3 444.0 365.7 445.9C366.1 447.8 366.3 449.4 366.6 452.4C366.8 455.4 399.2 460.1 367.1 463.9C335.0 467.6 206.0 476.5 174.0 475.0" stroke-dasharray="83.3 11.4 131.9 11.4 131.2 11.4 9999.0"/>
<path d="M319.1 357.6C320.5 357.6 322.4 358.1 324.1 359.1C325.8 360.1 327.5 362.0 329.1 363.6C330.7 365.2 332.4 366.8 333.7 368.6C334.9 370.4 335.9 372.4 336.7 374.1C337.4 375.9 337.9 377.5 338.0 379.1C338.1 380.8 337.9 382.6 337.2 384.2C336.4 385.7 335.1 387.5 333.7 388.7C332.2 389.9 330.4 390.8 328.6 391.4C326.9 391.9 324.8 392.3 323.1 392.0C321.4 391.7 320.0 390.8 318.6 389.7C317.2 388.5 315.7 386.9 314.6 385.2C313.4 383.4 312.2 381.1 311.6 379.1C310.9 377.1 310.7 375.0 310.6 373.1C310.4 371.2 310.5 369.3 310.9 367.6C311.2 365.8 311.8 364.0 312.6 362.6C313.4 361.1 314.5 359.7 315.6 358.9C316.7 358.0 317.7 357.5 319.1 357.6" stroke-dasharray="13.9 11.4 9999.0"/>
<path d="M650.0 262.0C647.5 227.7 640.0 263.1 635.0 264.0C630.0 264.9 623.7 266.0 620.0 267.3C616.3 268.5 615.5 269.4 612.9 271.6C610.2 273.7 606.9 276.8 604.3 280.1C601.7 283.5 599.3 287.5 597.1 291.6C595.0 295.6 593.3 299.9 591.4 304.4C589.5 309.0 587.6 314.4 585.7 318.7C583.8 323.0 582.1 326.6 580.0 330.1C577.9 333.7 575.5 337.3 572.9 340.1C570.2 343.0 567.6 345.4 564.3 347.3C561.0 349.2 556.2 350.4 552.9 351.6C549.5 352.8 546.9 353.2 544.3 354.4C541.7 355.6 538.8 357.6 537.1 358.7C535.5 359.8 536.4 360.1 534.3 361.0C532.1 361.9 527.4 362.4 524.3 363.9C521.2 365.3 518.3 367.4 515.7 369.6C513.1 371.7 511.0 374.9 508.6 376.7C506.2 378.5 504.0 380.1 501.4 380.4C498.8 380.8 495.5 379.5 492.9 378.7C490.2 378.0 488.1 375.7 485.7 375.9C483.3 376.0 480.7 377.5 478.6 379.6C476.4 381.6 474.8 385.0 472.9 388.1C471.0 391.2 469.3 395.3 467.1 398.1C465.0 401.0 462.6 402.9 460.0 405.3C457.4 407.7 454.3 410.0 451.4 412.4C448.6 414.8 445.5 417.4 442.9 419.6C440.2 421.7 437.9 423.4 435.7 425.3C433.6 427.2 431.9 428.4 430.0 431.0C428.1 433.6 426.0 438.5 424.3 441.0C422.6 443.5 421.4 443.5 420.0 445.9C418.6 448.2 377.4 451.3 415.7 455.3C454.0 459.3 611.0 502.2 650.0 470.0C689.0 437.8 652.5 296.3 650.0 262.0" stroke-dasharray="137.0 11.4 134.6 11.4 9999.0"/>
<path d="M500.9 399.6C502.9 399.8 505.6 401.2 507.1 403.9C508.7 406.5 509.6 411.5 510.0 415.3C510.4 419.1 510.1 423.6 509.4 426.7C508.7 429.8 507.3 432.3 505.7 433.9C504.1 435.4 501.9 436.4 500.0 436.1C498.1 435.9 496.2 434.2 494.3 432.4C492.4 430.6 490.2 427.3 488.6 425.3C486.9 423.3 485.6 421.6 484.3 420.4C483.0 419.2 480.6 419.0 480.9 418.1C481.1 417.3 484.2 416.7 485.7 415.3C487.2 413.9 488.4 411.7 490.0 409.6C491.6 407.4 493.3 404.1 495.1 402.4C497.0 400.8 498.9 399.3 500.9 399.6" stroke-dasharray="3.6 11.4 9999.0"/>
<path d="M565.1 82.4H46.3V442.5H615.7"/>
<path d="M565.1 82.1L566.0 84.4L565.9 86.7L566.5 89.0L566.6 91.3L567.1 93.6L567.7 95.8L569.2 97.6L570.0 99.8L570.0 102.1L569.9 105.1L571.3 107.8L571.4 110.7L573.2 113.4L574.3 116.4L573.0 119.2L573.4 122.2L572.9 125.0L571.8 127.8L571.9 130.7L571.4 133.6L571.5 135.9L572.6 138.1L572.1 140.5L572.0 142.8L572.9 145.0L572.6 147.3L572.1 149.5L572.1 151.8L572.9 154.2L572.0 156.4L571.8 158.7L572.2 161.0L572.8 163.3L573.4 165.5L572.9 167.9L572.1 170.7L572.5 173.6L572.3 176.4L572.4 178.7L572.7 180.9L573.5 182.9L574.3 185.0L574.2 187.4L575.6 189.5L575.5 192.0L576.7 194.1L577.1 196.4L577.0 198.9L577.7 201.1L579.5 203.1L580.0 205.4L580.0 207.9L580.5 210.4L580.0 213.0L580.4 215.5L582.2 217.2L583.0 219.5L584.3 221.6L585.3 223.6L585.7 225.9L586.6 227.9L587.1 230.1L588.4 232.0L589.2 234.2L590.2 236.2L591.4 238.1L591.2 240.6L591.9 243.0L592.0 245.5L592.5 247.8L593.4 250.1L592.8 252.6L593.4 254.9L594.4 257.3L593.4 259.7L593.4 262.1L594.3 264.4L593.9 266.9L594.7 269.2L594.7 271.6L595.7 273.9L594.9 276.4L595.7 278.7L595.6 281.0L596.1 283.3L596.4 285.6L595.1 287.9L595.7 290.1L594.8 292.4L596.1 294.7L594.9 297.0L595.4 299.3L595.1 301.6L596.1 303.8L596.3 306.1L595.9 308.5L596.2 310.8L597.1 313.0L598.3 315.2L597.9 317.8L599.3 320.0L598.7 322.6L599.8 324.9L600.0 327.3L599.2 329.5L598.9 331.8L599.5 334.1L598.5 336.4L599.1 338.7L599.3 341.0L599.6 343.3L598.6 345.6L599.4 347.9L598.6 350.1L599.4 352.8L599.4 355.6L599.5 358.3L600.0 361.0L601.6 362.9L602.8 365.0L602.7 367.7L604.3 369.6L605.3 371.9L605.0 374.5L605.8 376.9L607.3 379.0L607.9 381.5L608.6 383.9L609.4 386.2L610.1 388.5L611.0 390.8L611.9 393.0L612.9 395.3L612.9 397.7L612.6 400.1L613.6 402.4L613.9 404.8L613.7 407.2L614.3 409.6L615.0 411.9L615.3 414.3L614.5 416.8L615.6 419.1L615.9 421.5L616.3 423.9L616.8 426.2L616.0 428.4L615.5 430.7L616.1 433.1L615.1 435.3L615.2 438.6L615.7 441.9"/>
<path d="M130.6 82.4V115.9H134.3V155.9H138.9V185.5"/>
<path d="M46.3 125H134.3"/>
<path d="M200.6 82.4V114.1H214.3V145H273.4"/>
<path d="M200.6 105H191.4V115H184.6V135"/>
<path d="M134.3 135H204.3V155.9H208.6V196.4H211.4V217.3"/>
<path d="M240.6 82.4V115H243.7V135H273.4"/>
<path d="M273.4 125.6V156.4H277.4V196.8H280.5V217.3"/>
<path d="M273.4 125.6H323.4V135.9H393.1"/>
<path d="M340.9 82.4V115H343.7V135.9"/>
<path d="M333.4 135.9V156.4H336.6V197.9H339.4V217.3"/>
<path d="M390.9 82.4V115H393.1V156.4"/>
<path d="M366.3 156.4H432.9"/>
<path d="M366.3 156.4V196.4H369.1V217.3"/>
<path d="M415.7 156.4V180.5L420.4 185L425.8 188L427.9 195.6L430.9 194L433.9 200.1L440 197.1L446 194L449 198.6L447.5 206.1L453.5 200.1L458.1 201.6L459.6 209.1L467.1 210"/>
<path d="M430.6 82.4V115H432.9V156.4"/>
<path d="M432.9 135.3H571"/>
<path d="M510.9 82.4L512.9 135.3"/>
<path d="M482.3 135.3L484.3 176.4"/>
<path d="M474.9 176.4H572"/>
<path d="M474.9 176.4V196.4H467.1V238.1H468.6V278.7H471.4V320.1H473.4V360.6"/>
<path d="M512.9 176.4L515.7 238.1"/>
<path d="M47.0 200.3L50.0 202.3L52.0 201.3L55.1 204.3L58.1 203.3L60.1 199.3L63.1 201.9L65.1 196.3L68.1 194.3L70.1 189.2L75.1 187.2L79.2 185.2L81.2 188.2L83.2 189.2L82.2 193.3L84.2 196.3L85.2 192.2L88.2 198.3L93.2 195.3L96.2 196.3L106.3 192.2L111.3 183.8L144.4 184.6L146.4 189.2L151.4 190.2L152.4 194.3L156.5 195.3L160.5 200.3L156.5 207.3L153.5 212.3L153.5 221.4L164.5 225.4L173.5 226.8L177.1 223.6L181.4 225.0L180.6 232.1L182.3 240.7L186.3 247.9L200.0 250.7L215.7 258.7L228.6 255.0L240.0 255.9L244.3 252.0L249.0 255.0L245.0 262.1L249.3 272.1L252.1 280.7L253.6 284.3L257.9 285.7L261.4 288.6L265.0 284.3L275.0 283.6L279.3 287.9L279.3 293.6L282.4 302.1L286.4 310.7L287.1 315.0L283.6 319.3L288.7 330.4L291.8 339.5L290.3 345.5L294.8 348.5L293.9 353.0L298.7 354.5L300.8 359.0L305.3 360.6L307.2 363.6L310.6 369.2L310.6 377.0L309.5 384.9L310.6 394.9L310.2 406.1L307.2 418.4L310.6 429.6L315.1 442.5"/>
<path d="M152.9 220.7V238.4H118.6V278.7"/>
<path d="M46.3 278.7H123.4V320.1"/>
<path d="M75.4 278.7V319.5H79.1V361"/>
<path d="M46.3 371H64.9V361H198.6"/>
<path d="M108.6 361V320.1H161.9V316.4H191V319.4H283.6"/>
<path d="M172.9 227.3V217.3H466.6"/>
<path d="M187.1 249.3V278.7H191V319.4H194.4V361.4H198.6V401.4H202.5V442.5"/>
<path d="M220.3 319.4V289.3H258"/>
<path d="M194.9 350.9H223.7V361.4H255.7V391.4H274.3V401"/>
<path d="M46.3 401.9H164.3V410.3H202.6"/>
<path d="M127.1 401.9V442.5"/>
<path d="M132 361V401.9"/>
<path d="M309.5 384.9L306.7 385.3L303.9 386.0L301.5 388.1L299.4 390.5L296.7 389.3L293.8 388.7L290.5 387.8L287.1 387.8L284.7 390.7L282.6 393.8L279.5 395.7L277.0 398.3L275.9 401.7L271.4 402.8L270.3 407.3L268.4 409.9L265.9 411.8L263.6 414.0L262.5 418.4L259.0 418.6L255.7 419.6L253.5 424.0L250.9 425.0L248.3 425.9L246.1 427.7L243.4 428.5L241.6 430.4L239.8 432.4L237.8 434.1L234.5 431.9L230.0 429.6L226.4 430.0L222.9 430.5L220.0 430.3L217.1 430.7L214.3 430.0L211.3 428.8L208.6 427.1L205.6 428.1L202.5 428.6"/>
<path d="M309.4 217.3V238.1H303.4V278.7"/>
<path d="M280.7 298.4H297.7V278.7H471.4"/>
<path d="M348.6 217.3V238.1H351.6V278.7"/>
<path d="M345.4 278.7V318.7H348V360.6"/>
<path d="M408.6 217.3V238.1H410.6V278.7"/>
<path d="M410.6 248.7H468.6"/>
<path d="M394.1 278.7V319H396.6V360.6"/>
<path d="M305.7 360.6H600"/>
<path d="M466.6 238.1H591.4"/>
<path d="M507.7 238.1V278.7H509.4V289.3"/>
<path d="M471.4 289.3H595.7"/>
<path d="M546.6 238.1V278.7H548V289.3"/>
<path d="M529.1 289.3L530.6 360.6"/>
<path d="M360.9 360.6V402H363.4V442.5"/>
<path d="M360.9 401.9H564.3"/>
<path d="M427.7 360.6V402H430.6V442.5"/>
<path d="M503.9 360.6V402H505.9V442.5"/>
<path d="M561.5 360.6V401.9H562.2V434.2H565.3V442.5"/>
<circle cx="421.7" cy="267.9" r="0.8" fill="#000" stroke="none"/>
<circle cx="240.5" cy="352.7" r="1.1" fill="#7a0000" stroke="none"/>
</g>
<g font-family="'Liberation Sans', Arial, sans-serif" font-size="9.4" fill="#000" stroke="#000" stroke-width="0.2" text-anchor="middle">
<text transform="translate(87.3 129.4) rotate(46)" y="3.4">67</text>
<text transform="translate(195.0 166.4) rotate(-61)" y="3.4">67</text>
<text transform="translate(294.3 109.3) rotate(277)" y="3.4">67</text>
<text transform="translate(358.6 107.3) rotate(38)" y="3.4">65</text>
<text transform="translate(464.0 111.8) rotate(74)" y="3.4">65</text>
<text transform="translate(528.0 123.6) rotate(-42)" y="3.4">67</text>
<text transform="translate(390.6 206.5) rotate(14)" y="3.4">67</text>
<text transform="translate(488.0 208.0) rotate(38)" y="3.4">67</text>
<text transform="translate(515.8 257.3) rotate(88)" y="3.4">67</text>
<text transform="translate(366.0 269.3) rotate(94)" y="3.4">67</text>
<text transform="translate(78.3 178.3) rotate(65)" y="3.4">69</text>
<text transform="translate(147.1 221.6) rotate(76)" y="3.4">69</text>
<text transform="translate(121.0 311.0) rotate(91)" y="3.4">69</text>
<text transform="translate(158.5 354.1) rotate(83)" y="3.4">69</text>
<text transform="translate(87.3 403.2) rotate(15)" y="3.4">69</text>
<text transform="translate(183.8 404.5) rotate(107)" y="3.4">69</text>
<text transform="translate(267.7 390.6) rotate(117)" y="3.4">69</text>
<text transform="translate(254.7 317.1) rotate(61)" y="3.4">69</text>
<text transform="translate(312.6 279.5) rotate(62)" y="3.4">69</text>
<text transform="translate(353.7 324.2) rotate(75)" y="3.4">69</text>
<text transform="translate(334.1 369.3) rotate(58)" y="3.4">69</text>
<text transform="translate(571.5 341.6) rotate(315)" y="3.4">69</text>
<text transform="translate(454.0 410.3) rotate(321)" y="3.4">69</text>
<text transform="translate(507.8 405.2) rotate(67)" y="3.4">69</text>
</g>
</g>
<g stroke="#000" stroke-width="0.8">
<rect x="626.2" y="132.80" width="16.3" height="64.75" fill="#ff0000"/>
<rect x="626.2" y="197.55" width="16.3" height="64.75" fill="#ffff00"/>
<rect x="626.2" y="262.30" width="16.3" height="64.75" fill="#00ff00"/>
<rect x="626.2" y="327.05" width="16.3" height="64.75" fill="#00ffff"/>
</g>
<g font-family="'Liberation Sans', Arial, sans-serif" font-size="12.6" fill="#000">
<text x="644.4" y="137.6">71</text>
<text x="644.4" y="202.4">69</text>
<text x="644.4" y="267.1">67</text>
<text x="644.4" y="331.9">65</text>
<text x="644.4" y="396.6">63</text>
</g>
<g font-family="'Liberation Sans', Arial, sans-serif" fill="#000">
<text x="182" y="22.8" font-size="17.6" font-weight="bold" textLength="297.8" lengthAdjust="spacingAndGlyphs">North Dakota Cooperative Stations</text>
<text x="105.3" y="44.8" font-size="17.6" font-weight="bold" textLength="448.5" lengthAdjust="spacingAndGlyphs">Normal August Average Temperature (F), 1981- 2010</text>
<text x="207.8" y="64.6" font-size="13.5" textLength="249.5" lengthAdjust="spacingAndGlyphs">(Data from NWS Cooperative Network)</text>
<text x="41.3" y="467.4" font-size="13.5" textLength="153.5" lengthAdjust="spacingAndGlyphs">ND State Climate Office</text>
</g>
</svg>
</body></html>
